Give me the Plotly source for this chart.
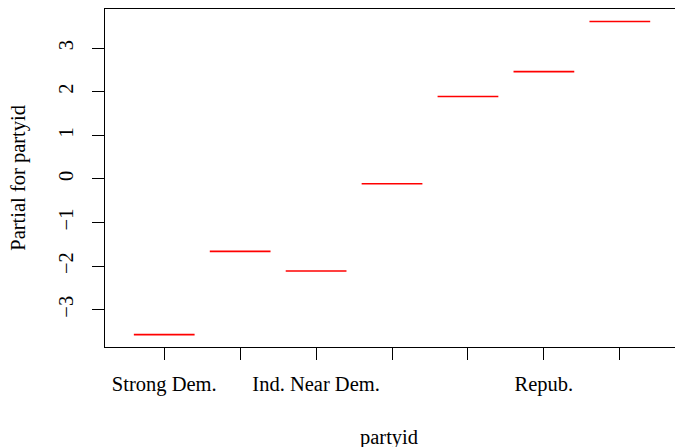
import plotly.graph_objects as go

categories = ["Strong Dem.", "Dem.", "Ind. Near Dem.", "Indep.", "Ind. Near Rep.", "Repub.", "Strong Repub."]
partial_values = [-3.57, -1.66, -2.11, -0.11, 1.89, 2.46, 3.61]
tick_labels = ["Strong Dem.", "", "Ind. Near Dem.", "", "", "Repub.", ""]
y_ticks = [-3, -2, -1, 0, 1, 2, 3]

FONT = "Liberation Serif"
FS = 20.5
HALF = 0.4

L, T, B = 104.5, 9, 346.7
R_ = 675
PX_PER_UNIT = 76.0
X0 = 0.22
X1 = X0 + (R_ - L) / PX_PER_UNIT
PW, PH = R_ - L, B - T

xs, ys = [], []
for i, v in enumerate(partial_values, start=1):
    xs += [i - HALF, i + HALF, None]
    ys += [v, v, None]

fig = go.Figure()
fig.add_trace(go.Scatter(x=xs, y=ys, mode="lines",
                         line=dict(color="#ff0000", width=1.6),
                         showlegend=False, hoverinfo="skip"))

fig.update_layout(
    width=675, height=447,
    margin=dict(l=L, r=675 - R_, t=T, b=447 - B, pad=0, autoexpand=False),
    paper_bgcolor="white", plot_bgcolor="white",
    font=dict(family=FONT, size=FS, color="black"),
    showlegend=False,
    annotations=[
        dict(text="partyid", xref="paper", yref="paper", x=(389 - L) / PW, y=-(437 - B) / PH,
             xanchor="center", yanchor="middle", showarrow=False,
             font=dict(family=FONT, size=FS)),
        dict(text="Partial for partyid", xref="paper", yref="paper",
             x=-(L - 18) / PW, y=(B - 178) / PH, textangle=-90,
             xanchor="center", yanchor="middle", showarrow=False,
             font=dict(family=FONT, size=FS)),
    ],
)
fig.update_xaxes(
    range=[X0, X1], automargin=False,
    tickmode="array", tickvals=list(range(1, len(categories) + 1)), ticktext=tick_labels,
    ticks="outside", ticklen=12, tickwidth=1, tickcolor="black",
    showline=True, linecolor="black", linewidth=1, mirror=True,
    showgrid=False, zeroline=False,
    tickfont=dict(family=FONT, size=FS),
    ticklabelstandoff=6,
)
fig.update_yaxes(
    range=[-3.853, 3.897], automargin=False,
    tickmode="array", tickvals=y_ticks,
    ticktext=[("\u2212" + str(abs(t))) if t < 0 else str(t) for t in y_ticks],
    tickangle=-90,
    ticks="outside", ticklen=12, tickwidth=1, tickcolor="black",
    showline=True, linecolor="black", linewidth=1, mirror=False,
    showgrid=False, zeroline=False,
    tickfont=dict(family=FONT, size=FS),
    ticklabelstandoff=11,
)

fig.write_html("out.html", config={"displayModeBar": False},
               post_script="document.body.style.margin='0';document.body.style.overflow='hidden';")
